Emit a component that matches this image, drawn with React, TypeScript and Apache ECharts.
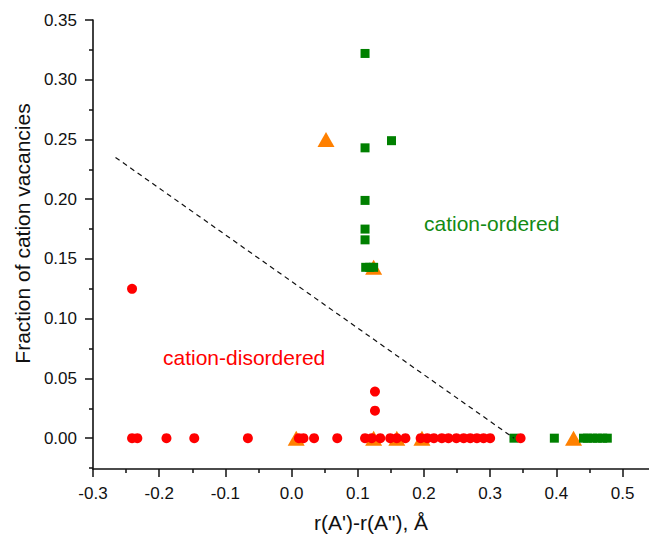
import React, { useEffect, useRef } from "react";
import * as echarts from "echarts";

// Red circles: cation-disordered
const redX = [-0.241, -0.233, -0.189, -0.147, -0.066, 0.011, 0.018, 0.034, 0.069, 0.111, 0.121, 0.134, 0.149, 0.159, 0.172, 0.195, 0.205, 0.215, 0.227, 0.237, 0.249, 0.26, 0.27, 0.28, 0.29, 0.3, 0.346, -0.241, 0.126, 0.126];
const redY = [0, 0, 0, 0, 0, 0, 0, 0, 0, 0, 0, 0, 0, 0, 0, 0, 0, 0, 0, 0, 0, 0, 0, 0, 0, 0, 0, 0.125, 0.039, 0.023];

// Green squares: cation-ordered
const greenX = [0.111, 0.111, 0.151, 0.111, 0.111, 0.111, 0.112, 0.118, 0.124, 0.336, 0.397, 0.441, 0.447, 0.455, 0.462, 0.47, 0.477];
const greenY = [0.322, 0.243, 0.249, 0.199, 0.175, 0.166, 0.143, 0.143, 0.143, 0, 0, 0, 0, 0, 0, 0, 0];

// Orange triangles
const orangeX = [0.052, 0.124, 0.007, 0.124, 0.159, 0.197, 0.426];
const orangeY = [0.25, 0.143, 0, 0, 0, 0, 0];

// Dashed boundary line
const lineX = [-0.266, 0.336];
const lineY = [0.235, 0];

// Ticks
const xMajor = [-0.3, -0.2, -0.1, 0, 0.1, 0.2, 0.3, 0.4, 0.5];
const xMinor = [-0.25, -0.15, -0.05, 0.05, 0.15, 0.25, 0.35, 0.45];
const yMajor = [0, 0.05, 0.1, 0.15, 0.2, 0.25, 0.3, 0.35];
const yMinor = [-0.025, 0.025, 0.075, 0.125, 0.175, 0.225, 0.275, 0.325];

const FONT = "'Liberation Sans', Arial, sans-serif";

const zip = (xs: number[], ys: number[]) => xs.map((x, i) => [x, ys[i]]);

export default function App() {
  const ref = useRef<HTMLDivElement>(null);
  useEffect(() => {
    if (!ref.current) return;
    const chart = echarts.init(ref.current, undefined, { renderer: "svg" });
    const axisLine = { show: true, onZero: false, lineStyle: { color: "#111", width: 1.6 } };
    const hiddenLine = { show: false, onZero: false };
    const tickStyle = { color: "#111", width: 1.5 };
    const xRange = { min: -0.3, max: 0.54 };
    const yRange = { min: -0.0258, max: 0.35 };
    chart.setOption({
      animation: false,
      backgroundColor: "#ffffff",
      grid: { left: 93, right: 0, top: 20, bottom: 66 },
      xAxis: [
        {
          type: "value",
          ...xRange,
          axisLine,
          splitLine: { show: false },
          axisTick: { show: true, customValues: xMajor, length: 8, lineStyle: tickStyle },
          axisLabel: {
            customValues: xMajor,
            formatter: (v: number) => v.toFixed(1),
            fontSize: 17,
            color: "#111",
            fontFamily: FONT,
            margin: 16,
          },
          name: "r(A')-r(A\"), Å",
          nameLocation: "middle",
          nameGap: 43,
          nameTextStyle: { fontSize: 21, color: "#111", fontFamily: FONT },
        },
        {
          type: "value",
          ...xRange,
          position: "bottom",
          axisLine: hiddenLine,
          splitLine: { show: false },
          axisTick: { show: true, customValues: xMinor, length: 4, lineStyle: tickStyle },
          axisLabel: { show: false },
        },
      ],
      yAxis: [
        {
          type: "value",
          ...yRange,
          axisLine,
          splitLine: { show: false },
          axisTick: { show: true, customValues: yMajor, length: 8, lineStyle: tickStyle },
          axisLabel: {
            customValues: yMajor,
            formatter: (v: number) => v.toFixed(2),
            fontSize: 17,
            color: "#111",
            fontFamily: FONT,
            margin: 16,
          },
          name: "Fraction of cation vacancies",
          nameLocation: "middle",
          nameGap: 60,
          nameTextStyle: { fontSize: 21, color: "#111", fontFamily: FONT, padding: [0, 0, 0, 22] },
        },
        {
          type: "value",
          ...yRange,
          position: "left",
          axisLine: hiddenLine,
          splitLine: { show: false },
          axisTick: { show: true, customValues: yMinor, length: 4, lineStyle: tickStyle },
          axisLabel: { show: false },
        },
      ],
      graphic: [
        {
          type: "text",
          x: 424,
          y: 223,
          style: { text: "cation-ordered", fill: "#138a13", fontSize: 21, fontFamily: FONT, verticalAlign: "middle", align: "left" },
        },
        {
          type: "text",
          x: 163,
          y: 357,
          style: { text: "cation-disordered", fill: "#ff0000", fontSize: 21, fontFamily: FONT, verticalAlign: "middle", align: "left" },
        },
      ],
      series: [
        {
          type: "line",
          data: zip(lineX, lineY),
          symbol: "none",
          lineStyle: { color: "#111", width: 1.2, type: [5, 4] },
        },
        {
          type: "scatter",
          data: zip(orangeX, orangeY),
          symbol: "triangle",
          symbolSize: [17, 15],
          itemStyle: { color: "#ff8000", opacity: 1 },
        },
        {
          type: "scatter",
          data: zip(greenX, greenY),
          symbol: "rect",
          symbolSize: 9,
          itemStyle: { color: "#008000", opacity: 1 },
        },
        {
          type: "scatter",
          data: zip(redX, redY),
          symbol: "circle",
          symbolSize: 10,
          itemStyle: { color: "#ff0000", opacity: 1 },
        },
      ],
    });
    return () => chart.dispose();
  }, []);
  return <div ref={ref} style={{ position: "fixed", left: 0, top: 0, width: 649, height: 538 }} />;
}
